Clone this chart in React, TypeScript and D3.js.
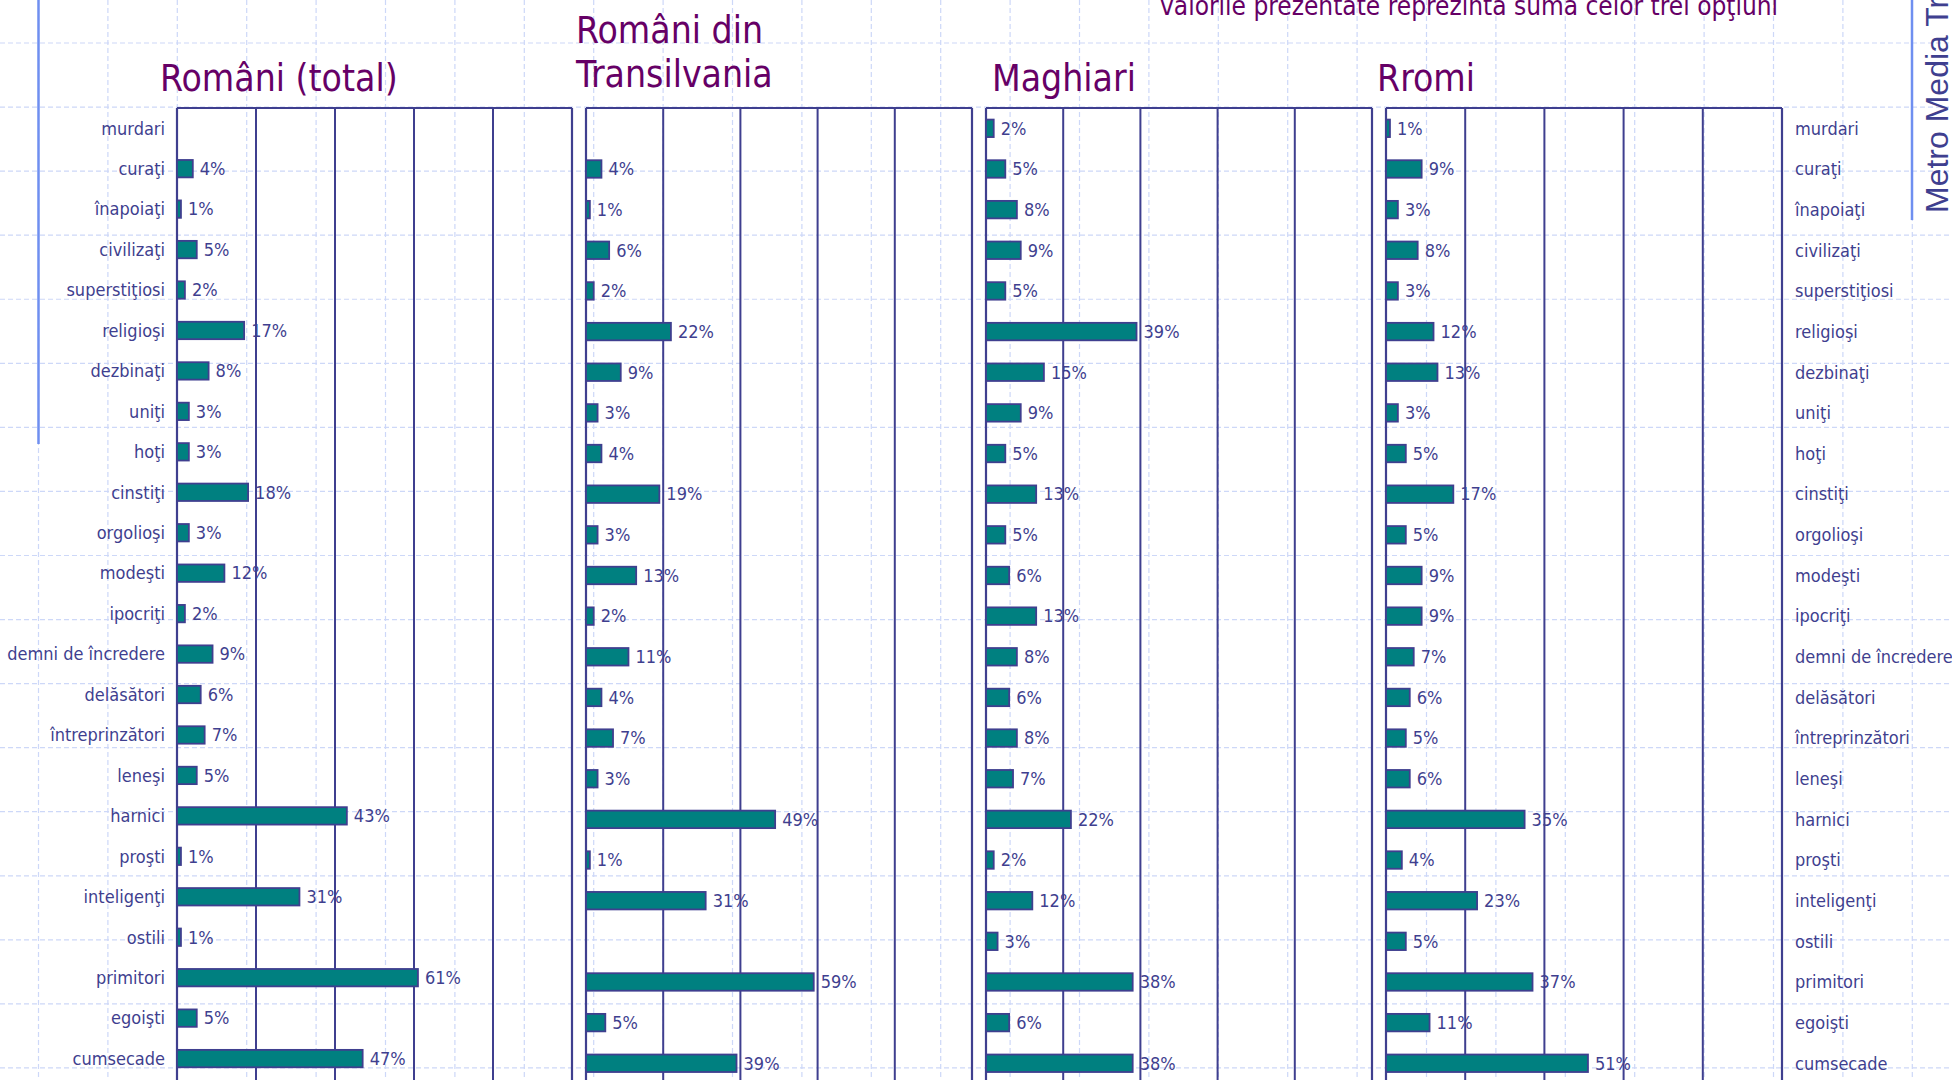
import React from "react";
import * as d3 from "d3";

const categories = [
  "murdari", "curaţi", "înapoiaţi", "civilizaţi", "superstiţiosi", "religioşi",
  "dezbinaţi", "uniţi", "hoţi", "cinstiţi", "orgolioşi", "modeşti", "ipocriţi",
  "demni de încredere", "delăsători", "întreprinzători", "leneşi", "harnici",
  "proşti", "inteligenţi", "ostili", "primitori", "egoişti", "cumsecade",
];

const romaniTotal = [null, 4, 1, 5, 2, 17, 8, 3, 3, 18, 3, 12, 2, 9, 6, 7, 5, 43, 1, 31, 1, 61, 5, 47];
const romaniTransilvania = [null, 4, 1, 6, 2, 22, 9, 3, 4, 19, 3, 13, 2, 11, 4, 7, 3, 49, 1, 31, null, 59, 5, 39];
const maghiari = [2, 5, 8, 9, 5, 39, 15, 9, 5, 13, 5, 6, 13, 8, 6, 8, 7, 22, 2, 12, 3, 38, 6, 38];
const rromi = [1, 9, 3, 8, 3, 12, 13, 3, 5, 17, 5, 9, 9, 7, 6, 5, 6, 35, 4, 23, 5, 37, 11, 51];

const panelTitles = [["Români (total)"], ["Români din", "Transilvania"], ["Maghiari"], ["Rromi"]];
const gridTicks = [20, 40, 60, 80];
const subtitle = "valorile prezentate reprezinta suma celor trei opţiuni";
const sideText = "Metro Media Transilvania";

const W = 1952;
const H = 1080;
const FONT = "Tahoma, 'DejaVu Sans Condensed', 'DejaVu Sans', sans-serif";
const NAVY = "#3f3f8f";
const PURPLE = "#660066";
const TEAL = "#008080";
const GRIDBG = "#cdd8f8";

const panels = [
  { values: romaniTotal, left: 177, width: 395, step: 40.45, titleX: 160, titleY: [91] },
  { values: romaniTransilvania, left: 586, width: 386, step: 40.65, titleX: 576, titleY: [43, 87] },
  { values: maghiari, left: 986, width: 386, step: 40.65, titleX: 992, titleY: [91] },
  { values: rromi, left: 1386, width: 396, step: 40.65, titleX: 1377, titleY: [91] },
];
const TOP = 108;

function Panel({ p, idx }: { p: any; idx: number }) {
  const x = d3.scaleLinear().domain([0, 100]).range([0, p.width]);
  const y = d3
    .scaleBand<string>()
    .domain(categories)
    .range([0, p.step * categories.length])
    .paddingInner(0.57)
    .paddingOuter(0.285);
  const bottom = 1100;
  return (
    <g transform={`translate(${p.left},${TOP})`}>
      {gridTicks.map((t) => (
        <line key={t} x1={x(t)} x2={x(t)} y1={0} y2={bottom} stroke={NAVY} strokeWidth={2} />
      ))}
      <line x1={0} x2={p.width} y1={0} y2={0} stroke={NAVY} strokeWidth={2.2} />
      <line x1={0} x2={0} y1={0} y2={bottom} stroke={NAVY} strokeWidth={2.2} />
      <line x1={p.width} x2={p.width} y1={0} y2={bottom} stroke={NAVY} strokeWidth={2.2} />
      {categories.map((c, i) => {
        const v = p.values[i];
        if (v == null) return null;
        const yy = y(c)!;
        return (
          <g key={c}>
            <rect x={0} y={yy} width={x(v)} height={y.bandwidth()} fill={TEAL} stroke={NAVY} strokeWidth={1.8} />
            <text
              x={x(v) + 7}
              y={yy + y.bandwidth() / 2}
              dy="0.35em"
              fontFamily={FONT}
              fontSize={18}
              fill={NAVY}
            >
              {v}%
            </text>
          </g>
        );
      })}
      {idx === 0 &&
        categories.map((c) => (
          <text
            key={c}
            x={-12}
            y={y(c)! + y.bandwidth() / 2}
            dy="0.35em"
            textAnchor="end"
            fontFamily={FONT}
            fontSize={18}
            fill={NAVY}
          >
            {c}
          </text>
        ))}
      {idx === 3 &&
        categories.map((c) => (
          <text
            key={c}
            x={p.width + 13}
            y={y(c)! + y.bandwidth() / 2}
            dy="0.35em"
            fontFamily={FONT}
            fontSize={18}
            fill={NAVY}
          >
            {c}
          </text>
        ))}
    </g>
  );
}

export default function App() {
  const gx = d3.range(0, 28).map((k) => 38.5 + k * 69.4);
  const gy = d3.range(0, 17).map((k) => 43 + k * 64.06);
  return (
    <svg
      width={W}
      height={H}
      style={{ position: "absolute", left: 0, top: 0, background: "#ffffff" }}
    >
      <rect x={0} y={0} width={W} height={H} fill="#ffffff" />
      {gy.map((v, i) => (
        <line key={"h" + i} x1={0} x2={W} y1={v} y2={v} stroke={GRIDBG} strokeWidth={1.2} strokeDasharray="5 3" />
      ))}
      {gx.map((v, i) => (
        <line key={"v" + i} x1={v} x2={v} y1={0} y2={H} stroke={GRIDBG} strokeWidth={1.2} strokeDasharray="5 3" />
      ))}
      <line x1={38.5} x2={38.5} y1={0} y2={444} stroke="#6f8ff0" strokeWidth={2.5} />
      <line x1={1912} x2={1912} y1={0} y2={220} stroke="#6f8ff0" strokeWidth={2.5} />
      <text
        transform="translate(1948,213) rotate(-90)"
        fontFamily="'Liberation Sans', Arial, sans-serif"
        fontSize={32}
        fill={NAVY}
      >
        {sideText}
      </text>
      <text x={1160} y={15} fontFamily={FONT} fontSize={26} fill={PURPLE}>
        {subtitle}
      </text>
      {panels.map((p, i) =>
        panelTitles[i].map((t, j) => (
          <text key={"t" + i + j} x={p.titleX} y={p.titleY[j]} fontFamily={FONT} fontSize={37} fill={PURPLE}>
            {t}
          </text>
        ))
      )}
      {panels.map((p, i) => (
        <Panel key={i} p={p} idx={i} />
      ))}
    </svg>
  );
}
